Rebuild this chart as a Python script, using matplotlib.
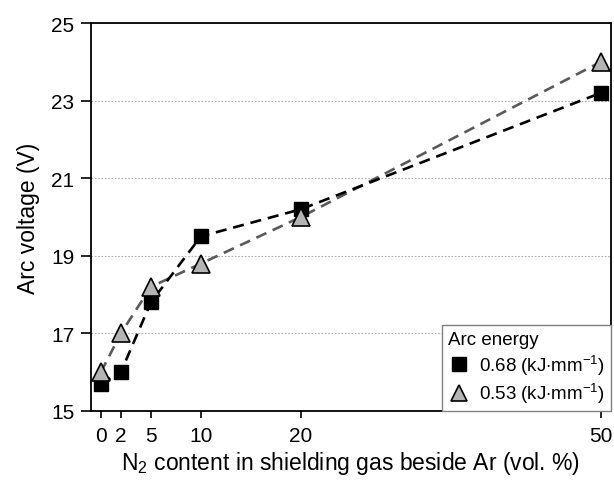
import matplotlib.pyplot as plt
from matplotlib.lines import Line2D

plt.rcParams['font.family'] = ['Liberation Sans', 'DejaVu Sans']
plt.rcParams['mathtext.fontset'] = 'custom'
plt.rcParams['mathtext.rm'] = 'Liberation Sans'
plt.rcParams['mathtext.it'] = 'Liberation Sans:italic'

# N2 content (vol. %)
n2 = [0, 2, 5, 10, 20, 50]
# arc voltage (V)
volt_068 = [15.7, 16.0, 17.8, 19.5, 20.2, 23.2]
volt_053 = [16.0, 17.0, 18.2, 18.8, 20.0, 24.0]

xticks = [0, 2, 5, 10, 20, 50]
yticks = [15, 17, 19, 21, 23, 25]
labels = ['0.68 (kJ$\\cdot$mm$^{-1}$)', '0.53 (kJ$\\cdot$mm$^{-1}$)']

fig = plt.figure(figsize=(6.14, 4.81), dpi=100)
ax = fig.add_axes([0.148, 0.1435, 0.847, 0.8065])

# dashed lines + markers
ax.plot(n2, volt_053, color='#5a5a5a', lw=1.9, dashes=(4.2, 2.6), zorder=2)
ax.plot(n2, volt_068, color='black', lw=1.9, dashes=(4.2, 2.6), zorder=2)
ax.plot(n2, volt_068, 's', color='black', ms=9.5, zorder=3, linestyle='none')
ax.plot(n2, volt_053, '^', mfc='#b4b4b4', mec='black', mew=1.2, ms=12.5,
        zorder=4, linestyle='none')

ax.set_xlim(-1, 51)
ax.set_ylim(15, 25)
ax.set_xticks(xticks)
ax.set_yticks(yticks)
ax.yaxis.grid(True, linestyle=(0, (1.5, 1.5)), color='#b0b0b0', lw=0.8)
ax.set_axisbelow(True)

ax.tick_params(direction='out', width=1.2, labelsize=15)
ax.tick_params(axis='x', length=5, pad=6)
ax.tick_params(axis='y', length=7, pad=5)
for s in ax.spines.values():
    s.set_linewidth(1.3)

ax.set_xlabel('N$_2$ content in shielding gas beside Ar (vol. %)', fontsize=16.5, labelpad=3)
ax.set_ylabel('Arc voltage (V)', fontsize=16.5, labelpad=8)

handles = [Line2D([], [], marker='s', color='black', ms=9.5, linestyle='none'),
           Line2D([], [], marker='^', mfc='#b4b4b4', mec='black', mew=1.2, ms=12,
                  linestyle='none')]
leg = ax.legend(handles, labels, title='Arc energy', loc='lower right',
                borderaxespad=0, fontsize=13.5, title_fontsize=13.5,
                fancybox=False, edgecolor='#808080', framealpha=1,
                handletextpad=0.5, handlelength=1.2, labelspacing=0.25,
                borderpad=0.3, alignment='left')
leg.get_frame().set_linewidth(1.0)

plt.savefig('out.png', dpi=100)
